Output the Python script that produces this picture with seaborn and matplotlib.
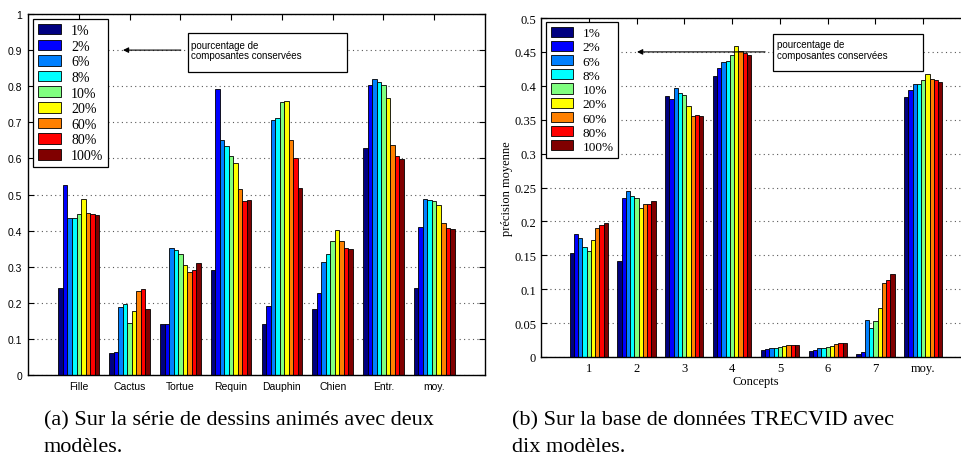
import matplotlib
matplotlib.use("Agg")
import matplotlib.pyplot as plt
import seaborn as sns
import pandas as pd

# ---------------- data ----------------
pcts = ['1%', '2%', '6%', '8%', '10%', '20%', '60%', '80%', '100%']
colors = ['#000080', '#0000FF', '#0080FF', '#00FFFF', '#80FF80',
          '#FFFF00', '#FF8000', '#FF0000', '#800000']

# (a) cartoon series
cats_a = ['Fille', 'Cactus', 'Tortue', 'Requin', 'Dauphin', 'Chien', 'Entr.', 'moy.']
fille   = [0.242, 0.527, 0.434, 0.434, 0.447, 0.487, 0.449, 0.445, 0.442]
cactus  = [0.060, 0.065, 0.187, 0.198, 0.145, 0.176, 0.234, 0.239, 0.184]
tortue  = [0.142, 0.142, 0.353, 0.345, 0.336, 0.306, 0.286, 0.292, 0.309]
requin  = [0.290, 0.792, 0.651, 0.633, 0.606, 0.587, 0.515, 0.482, 0.485]
dauphin = [0.142, 0.190, 0.706, 0.712, 0.755, 0.758, 0.652, 0.600, 0.517]
chien   = [0.182, 0.226, 0.314, 0.336, 0.371, 0.402, 0.372, 0.353, 0.350]
entr    = [0.628, 0.803, 0.820, 0.811, 0.802, 0.768, 0.637, 0.607, 0.598]
moy_a   = [0.240, 0.409, 0.488, 0.484, 0.482, 0.472, 0.422, 0.407, 0.404]
vals_a = [fille, cactus, tortue, requin, dauphin, chien, entr, moy_a]
yticks_a = [0, 0.1, 0.2, 0.3, 0.4, 0.5, 0.6, 0.7, 0.8, 0.9, 1]
ylabels_a = ['0', '0.1', '0.2', '0.3', '0.4', '0.5', '0.6', '0.7', '0.8', '0.9', '1']

# (b) TRECVID
cats_b = ['1', '2', '3', '4', '5', '6', '7', 'moy.']
c1 = [0.153, 0.181, 0.176, 0.162, 0.157, 0.173, 0.191, 0.195, 0.197]
c2 = [0.142, 0.235, 0.245, 0.238, 0.235, 0.220, 0.225, 0.226, 0.230]
c3 = [0.385, 0.381, 0.397, 0.390, 0.386, 0.370, 0.356, 0.357, 0.356]
c4 = [0.415, 0.426, 0.435, 0.436, 0.446, 0.459, 0.452, 0.449, 0.445]
c5 = [0.011, 0.012, 0.013, 0.014, 0.015, 0.016, 0.017, 0.017, 0.017]
c6 = [0.009, 0.011, 0.013, 0.013, 0.015, 0.016, 0.019, 0.020, 0.020]
c7 = [0.005, 0.008, 0.054, 0.043, 0.053, 0.072, 0.109, 0.114, 0.122]
moy_b = [0.383, 0.394, 0.403, 0.402, 0.409, 0.417, 0.410, 0.408, 0.405]
vals_b = [c1, c2, c3, c4, c5, c6, c7, moy_b]
yticks_b = [0, 0.05, 0.1, 0.15, 0.2, 0.25, 0.3, 0.35, 0.4, 0.45, 0.5]
ylabels_b = ['0', '0.05', '0.1', '0.15', '0.2', '0.25', '0.3', '0.35', '0.4', '0.45', '0.5']

annot_text = 'pourcentage de\ncomposantes conservées'
cap_a = ['(a) Sur la série de dessins animés avec deux', 'modèles.']
cap_b = ['(b) Sur la base de données TRECVID avec', 'dix modèles.']


def long_df(cats, vals):
    rows = []
    for c, v in zip(cats, vals):
        for p, x in zip(pcts, v):
            rows.append({'cat': c, 'pct': p, 'val': x})
    return pd.DataFrame(rows)


df_a = long_df(cats_a, vals_a)
df_b = long_df(cats_b, vals_b)

SANS = 'Liberation Sans'
SERIF = 'Liberation Serif'

W, H = 962, 460
fig = plt.figure(figsize=(W / 100, H / 100), dpi=100)


def px_rect(l, t, r, b):
    return [l / W, 1 - b / H, (r - l) / W, (b - t) / H]


ax_a = fig.add_axes(px_rect(28, 15, 485, 376))
ax_b = fig.add_axes(px_rect(541, 19, 971, 358))


def draw(ax, df, cats):
    sns.barplot(data=df, x='cat', y='val', hue='pct', order=cats, hue_order=pcts,
                palette=colors, width=0.8, edgecolor='black', linewidth=0.6,
                errorbar=None, ax=ax, legend=True, saturation=1)
    ax.set_xlim(-1, 8)
    ax.set_xlabel('')
    ax.set_ylabel('')
    ax.set_axisbelow(True)
    ax.yaxis.grid(True, linestyle=(0, (1, 3)), color='0.35', linewidth=0.8)
    ax.xaxis.grid(False)
    ax.tick_params(direction='in', top=True, right=True, length=4, width=0.8,
                   colors='black')
    for s in ax.spines.values():
        s.set_linewidth(1.0)
        s.set_color('black')
        s.set_visible(True)
    h, l = ax.get_legend_handles_labels()
    ax.get_legend().remove()
    return h, l


h_a, l_a = draw(ax_a, df_a, cats_a)
ax_a.set_ylim(0, 1)
ax_a.set_yticks(yticks_a)
ax_a.set_yticklabels(ylabels_a, fontfamily=SANS, fontsize=7.5)
ax_a.set_xticks(range(len(cats_a)))
ax_a.set_xticklabels(cats_a, fontfamily=SANS, fontsize=7.5)
ax_a.tick_params(axis='both', pad=4)

h_b, l_b = draw(ax_b, df_b, cats_b)
ax_b.set_ylim(0, 0.5)
ax_b.set_yticks(yticks_b)
ax_b.set_yticklabels(ylabels_b, fontfamily=SERIF, fontsize=9)
ax_b.set_xticks(range(len(cats_b)))
ax_b.set_xticklabels(cats_b, fontfamily=SERIF, fontsize=9)
ax_b.set_xlabel('Concepts', fontfamily=SERIF, fontsize=9, labelpad=1)
ax_b.set_ylabel('précision moyenne', fontfamily=SERIF, fontsize=9, labelpad=1)

# legends
for ax, h, l, anchor, fs, ls in [(ax_a, h_a, l_a, (33, 20), 10, 0.18),
                                (ax_b, h_b, l_b, (546, 23), 9.5, 0.12)]:
    leg = ax.legend(h, l, loc='upper left',
                    bbox_to_anchor=(anchor[0] / W, 1 - anchor[1] / H),
                    bbox_transform=fig.transFigure, borderaxespad=0,
                    prop={'family': SERIF, 'size': fs}, frameon=True,
                    fancybox=False, framealpha=1, edgecolor='black',
                    handlelength=1.7, handleheight=0.8, handletextpad=0.7,
                    labelspacing=ls, borderpad=0.35)
    leg.get_frame().set_linewidth(0.9)

# annotation boxes + arrows
def annot(ax, box, text_xy, arrow_head, arrow_tail):
    ax.add_patch(plt.Rectangle((box[0], box[1]), box[2] - box[0], box[3] - box[1],
                               fill=True, facecolor='white', edgecolor='black',
                               linewidth=0.9, clip_on=False, zorder=5))
    ax.text(text_xy[0], text_xy[1], annot_text, fontfamily=SANS, fontsize=7,
            va='top', ha='left', linespacing=1.05, zorder=6, clip_on=False)
    ax.annotate('', xy=arrow_head, xytext=arrow_tail,
                arrowprops=dict(arrowstyle='-|>', color='black', lw=0.8,
                                mutation_scale=8, shrinkA=0, shrinkB=0),
                zorder=6, annotation_clip=False)

annot(ax_a, (2.15, 0.839, 5.28, 0.947), (2.21, 0.928), (0.87, 0.9), (2.01, 0.9))
annot(ax_b, (3.85, 0.422, 6.99, 0.4765), (3.93, 0.4685), (1.01, 0.45), (3.69, 0.45))

# captions
for x, lines in [(44, cap_a), (512, cap_b)]:
    for i, line in enumerate(lines):
        fig.text(x / W, 1 - (425 + 27 * i) / H, line, fontfamily=SERIF,
                 fontsize=16, va='baseline', ha='left')

fig.savefig('out.png', dpi=100)
